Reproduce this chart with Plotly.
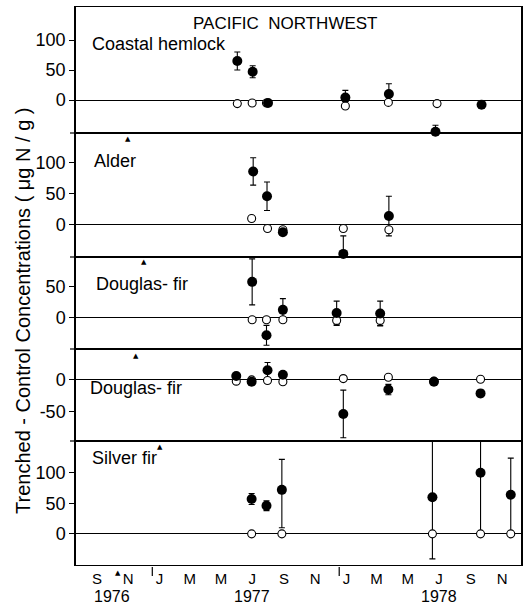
import plotly.graph_objects as go
from plotly.subplots import make_subplots

# ---------------- data ----------------
panel_names = ["Coastal hemlock", "Alder", "Douglas- fir", "Douglas- fir", "Silver fir"]

ch_dates_filled = ["1977-06-16", "1977-07-16", "1977-08-15", "1978-01-13", "1978-04-08", "1978-07-08", "1978-10-06"]
ch_filled = [65, 47, -5, 4, 10, -53, -8]
ch_err = [15, 10, 0, 12, 17, 11, 0]
ch_dates_open = ["1977-06-16", "1977-07-15", "1977-08-12", "1978-01-13", "1978-04-07", "1978-07-11"]
ch_open = [-6, -5, -5, -10, -4, -6]
ch_open_err = [0, 0, 0, 0, 0, 0]

al_dates_filled = ["1977-07-17", "1977-08-13", "1977-09-13", "1978-01-09", "1978-04-08"]
al_filled = [86, 46, -12, -47, 14]
al_err = [22, 23, 4, 29, 32]
al_dates_open = ["1977-07-14", "1977-08-14", "1977-09-13", "1978-01-09", "1978-04-08"]
al_open = [10, -6, -8, -6, -8]
al_open_err = [0, 0, 0, 0, 0]

df1_dates_filled = ["1977-07-15", "1977-08-12", "1977-09-13", "1977-12-27", "1978-03-22"]
df1_filled = [58, -28, 13, 8, 7]
df1_err = [37, 16, 18, 19, 20]
df1_dates_open = ["1977-07-15", "1977-08-12", "1977-09-13", "1977-12-27", "1978-03-22"]
df1_open = [-3, -3, -3, -4, -4]
df1_open_err = [0, 0, 0, 8, 8]

df2_dates_filled = ["1977-06-14", "1977-07-14", "1977-08-14", "1977-09-13", "1978-01-09", "1978-04-07", "1978-07-05", "1978-10-04"]
df2_filled = [5, -4, 14, 7, -54, -16, -4, -22]
df2_err = [0, 0, 12, 0, 37, 8, 0, 5]
df2_dates_open = ["1977-06-14", "1977-07-14", "1977-08-14", "1977-09-13", "1978-01-09", "1978-04-07", "1978-07-05", "1978-10-04"]
df2_open = [-3, -1, -2, -4, 1, 3, -3, 0]
df2_open_err = [0, 0, 0, 0, 0, 0, 0, 0]

sf_dates_filled = ["1977-07-14", "1977-08-12", "1977-09-11", "1978-07-02", "1978-10-04", "1978-12-02"]
sf_filled = [57, 46, 72, 60, 100, 64]
sf_err_plus = [9, 8, 50, 101, 100, 60]
sf_err_minus = [9, 8, 62, 101, 100, 60]
sf_dates_open = ["1977-07-14", "1977-09-11", "1978-07-02", "1978-10-04", "1978-12-02"]
sf_open = [0, 0, 0, 0, 0]
sf_open_err = [0, 0, 0, 0, 0]

# trenching date arrows (one per panel)
trench_dates = ["1976-11-14", "1976-12-15", "1976-11-30", "1977-01-16", "1976-10-26"]

month_ticks = ["1976-09-15", "1976-11-15", "1977-01-15", "1977-03-15", "1977-05-15", "1977-07-15",
               "1977-09-15", "1977-11-15", "1978-01-15", "1978-03-15", "1978-05-15", "1978-07-15",
               "1978-09-15", "1978-11-15"]
month_labels = ["S", "N", "J", "M", "M", "J", "S", "N", "J", "M", "M", "J", "S", "N"]
year_labels = ["1976", "1977", "1978"]
year_label_dates = ["1976-10-15", "1977-07-15", "1978-07-15"]
year_starts = ["1977-01-01", "1978-01-01"]

y_ranges = [[-55, 155], [-52, 148], [-50, 98], [-96, 47], [-51, 152]]
y_tickvals = [[100, 50, 0], [100, 50, 0], [50, 0], [0, -50], [100, 50, 0]]

panels = [
    (ch_dates_filled, ch_filled, ch_err, ch_err, ch_dates_open, ch_open, ch_open_err),
    (al_dates_filled, al_filled, al_err, al_err, al_dates_open, al_open, al_open_err),
    (df1_dates_filled, df1_filled, df1_err, df1_err, df1_dates_open, df1_open, df1_open_err),
    (df2_dates_filled, df2_filled, df2_err, df2_err, df2_dates_open, df2_open, df2_open_err),
    (sf_dates_filled, sf_filled, sf_err_plus, sf_err_minus, sf_dates_open, sf_open, sf_open_err),
]

# ---------------- figure ----------------
W, H = 529, 604
ML, MR, MT, MB = 76, 8, 7, 39
heights = [126, 124, 92, 92, 124]

fig = make_subplots(rows=5, cols=1, shared_xaxes=True, vertical_spacing=0,
                    row_heights=heights)

FONT = "Liberation Sans, Arial, sans-serif"

for i, (dfx, fy, ep, em, dox, oy, oe) in enumerate(panels):
    r = i + 1
    fig.add_trace(go.Scatter(x=dox, y=oy, mode="markers",
                             marker=dict(size=1, color="rgba(0,0,0,0)"),
                             error_y=dict(type="data", array=oe, visible=True,
                                          color="black", thickness=1.1, width=3),
                             showlegend=False, hoverinfo="skip"), row=r, col=1)
    fig.add_trace(go.Scatter(x=dfx, y=fy, mode="markers",
                             marker=dict(size=1, color="rgba(0,0,0,0)"),
                             error_y=dict(type="data", symmetric=False, array=ep, arrayminus=em,
                                          visible=True, color="black", thickness=1.1, width=3),
                             showlegend=False, hoverinfo="skip"), row=r, col=1)
    fig.add_trace(go.Scatter(x=dox, y=oy, mode="markers", cliponaxis=False,
                             marker=dict(size=8, color="white", symbol="circle",
                                         line=dict(color="black", width=1.1)),
                             showlegend=False), row=r, col=1)
    fig.add_trace(go.Scatter(x=dfx, y=fy, mode="markers", cliponaxis=False,
                             marker=dict(size=10, color="black", symbol="circle",
                                         line=dict(color="black", width=0)),
                             showlegend=False), row=r, col=1)

    fig.update_yaxes(row=r, col=1, range=y_ranges[i], tickvals=y_tickvals[i],
                     ticktext=[str(v) for v in y_tickvals[i]],
                     ticks="outside", ticklen=5, tickwidth=1.2, tickcolor="black",
                     showgrid=False, zeroline=True, zerolinecolor="black", zerolinewidth=1,
                     showline=True, linecolor="black", linewidth=1.5, mirror=True,
                     tickfont=dict(family=FONT, size=18, color="black"))
    fig.update_xaxes(row=r, col=1, type="date",
                     range=["1976-08-05", "1978-12-22"],
                     showgrid=False, zeroline=False,
                     showline=True, linecolor="black", linewidth=1, mirror=True,
                     ticks="", tickvals=month_ticks, ticktext=month_labels,
                     showticklabels=(r == 5),
                     tickfont=dict(family=FONT, size=15, color="black"))

plot_h = H - MT - MB
plot_w = W - ML - MR

def px_x(px):
    return (px - ML) / plot_w

def px_y(py):
    return (H - MB - py) / plot_h

annotations = []
label_pos = [(90, 44), (92, 161), (94, 284), (88, 388), (90, 458)]
for name, (lx, ly) in zip(panel_names, label_pos):
    annotations.append(dict(text=name, x=px_x(lx), y=px_y(ly), xref="paper", yref="paper",
                            xanchor="left", yanchor="middle", showarrow=False,
                            font=dict(family=FONT, size=18, color="black")))

annotations.append(dict(text="PACIFIC  NORTHWEST", x=px_x(285), y=px_y(23), xref="paper", yref="paper",
                        xanchor="center", yanchor="middle", showarrow=False,
                        font=dict(family=FONT, size=17, color="black")))

annotations.append(dict(text="Trenched - Control Concentrations ( \u03bcg N / g )",
                        x=px_x(23), y=px_y(311), xref="paper", yref="paper",
                        xanchor="center", yanchor="middle", textangle=-90, showarrow=False,
                        font=dict(family=FONT, size=20, color="black")))

for yl, yd in zip(year_labels, year_label_dates):
    annotations.append(dict(text=yl, x=yd, y=px_y(596), xref="x5", yref="paper",
                            xanchor="center", yanchor="middle", showarrow=False,
                            font=dict(family=FONT, size=16, color="black")))

arrow_y = [139, 262, 356, 447, 573]
for td, ay in zip(trench_dates, arrow_y):
    annotations.append(dict(text="\u25b2", x=td, y=px_y(ay), xref="x5", yref="paper",
                            xanchor="center", yanchor="middle", showarrow=False,
                            font=dict(family="DejaVu Sans", size=7, color="black")))

shapes = []
for by in [133, 257, 349, 441]:
    shapes.append(dict(type="line", xref="paper", yref="paper",
                       x0=px_x(70), x1=px_x(76), y0=px_y(by), y1=px_y(by),
                       line=dict(color="black", width=1.2)))
for ys in year_starts:
    shapes.append(dict(type="line", xref="x5", yref="paper",
                       x0=ys, x1=ys, y0=px_y(567), y1=px_y(576),
                       line=dict(color="black", width=1.2)))

fig.update_layout(width=W, height=H, margin=dict(l=ML, r=MR, t=MT, b=MB),
                  paper_bgcolor="white", plot_bgcolor="white",
                  showlegend=False, annotations=annotations, shapes=shapes,
                  font=dict(family=FONT, color="black"))

fig.write_html("out.html", config={"displayModeBar": False},
               post_script="document.body.style.margin='0';document.body.style.overflow='hidden';")
